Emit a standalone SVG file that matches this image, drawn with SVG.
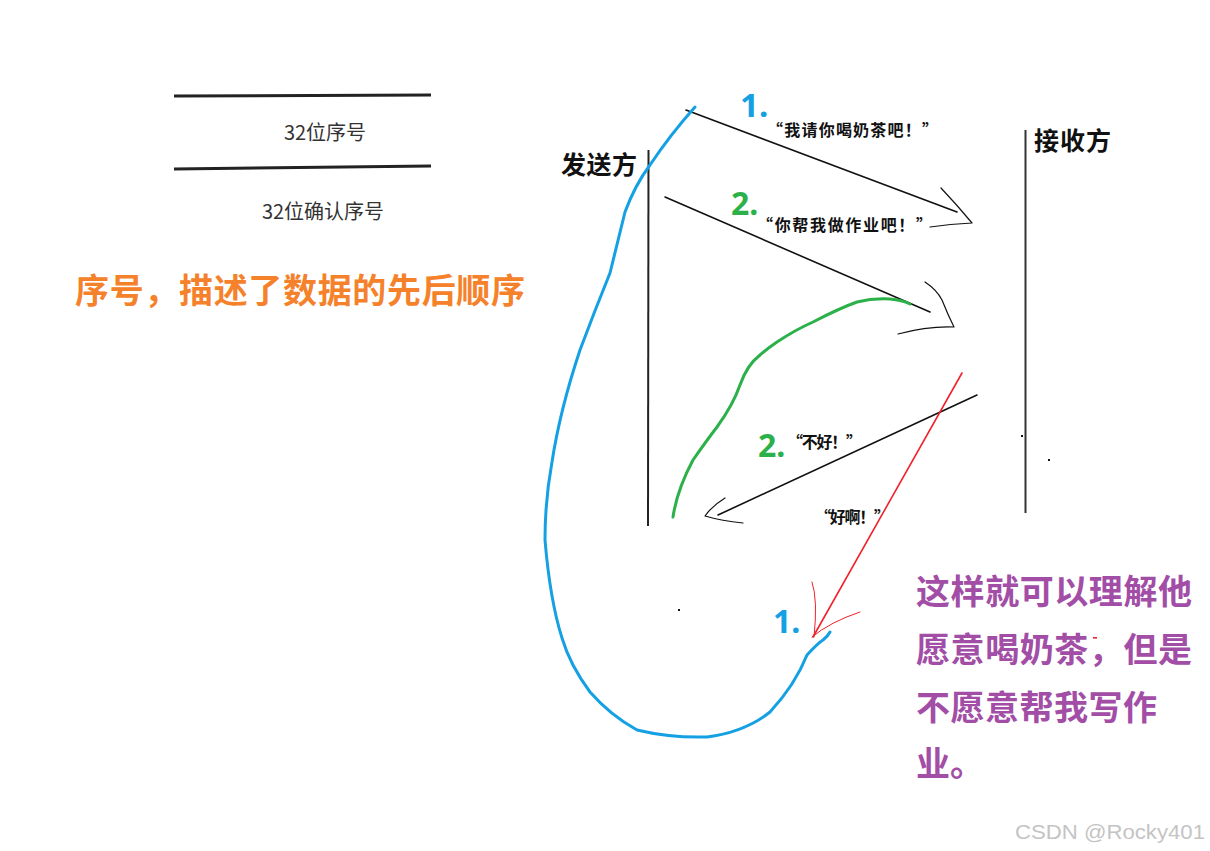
<svg xmlns="http://www.w3.org/2000/svg" width="1210" height="851" viewBox="0 0 1210 851">
<style>
.cjk{font-family:"Noto Sans CJK SC","Noto Sans",sans-serif}
.b{font-weight:bold}
.num{font-family:"Noto Sans","Liberation Sans",sans-serif;font-weight:bold}
.ln{stroke:#111;fill:none;stroke-linecap:round;stroke-linejoin:round}
.blue{stroke:#14a0e3;stroke-width:3;fill:none;stroke-linecap:round;stroke-linejoin:round}
.green{stroke:#2bb04a;stroke-width:3;fill:none;stroke-linecap:round;stroke-linejoin:round}
.red{stroke:#f0222a;fill:none;stroke-linecap:round}
</style>
<rect width="1210" height="851" fill="#fff"/>
<g id="table">
<line x1="174" y1="96" x2="431" y2="95" stroke="#222" stroke-width="3"/>
<line x1="174" y1="169" x2="431" y2="166" stroke="#222" stroke-width="3"/>
<text x="325" y="140" class="cjk" font-size="20" fill="#333" text-anchor="middle">32位序号</text>
<text x="323" y="219" class="cjk" font-size="20" fill="#333" text-anchor="middle">32位确认序号</text>
</g>
<g id="note-orange">
<text x="75" y="303" class="cjk b" font-size="34" fill="#f5822b" textLength="450" lengthAdjust="spacing">序号，描述了数据的先后顺序</text>
</g>
<g id="sender">
<line x1="648.5" y1="150" x2="648" y2="526" stroke="#222" stroke-width="2"/>
<text x="561" y="174" class="cjk b" font-size="25" fill="#111" textLength="76" lengthAdjust="spacing">发送方</text>
</g>
<g id="receiver">
<line x1="1025.5" y1="130" x2="1025.5" y2="513" stroke="#333" stroke-width="2"/>
<text x="1034" y="150" class="cjk b" font-size="25" fill="#111" textLength="77" lengthAdjust="spacing">接收方</text>
</g>
<g id="connectors">
<line class="ln" x1="686" y1="110" x2="957" y2="212" stroke-width="1.6"/>
<path class="ln" d="M941 188 Q958 206 972 223 Q950 224 930 227" stroke-width="1.2"/>
<line class="ln" x1="665" y1="197" x2="930" y2="312" stroke-width="1.6"/>
<path class="ln" d="M925 282 Q937 290 942 300 Q948 315 954 327 Q928 326 898 334" stroke-width="1.2"/>
<line class="ln" x1="977" y1="395" x2="718" y2="515" stroke-width="1.6"/>
<path class="ln" d="M725 498 Q712 506 705 516 Q722 521 743 523" stroke-width="1.2"/>
<path class="blue" d="M695 107 Q670 135 650 165 Q635 185 625 212 Q618 240 610 273 Q595 310 580 350 Q560 410 552 462 Q545 500 545 540 Q550 600 562 638 Q570 665 590 692 Q610 715 637 730 Q670 738 707 737 Q745 732 770 712 Q795 685 807 655 Q818 643 823 640 Q828 636 830 632"/>
<path class="green" d="M673 517 Q677 490 693 460 Q707 440 717 427 Q733 405 740 385 Q747 365 760 355 Q768 348 777 342 Q795 330 813 322 Q840 308 857 302 Q873 298 890 299 Q902 300 910 304"/>
<line class="red" x1="962" y1="373" x2="813" y2="637" stroke-width="1.6"/>
<path class="red" d="M812 582 Q818 600 814 637" stroke-width="1"/>
<path class="red" d="M860 612 Q830 622 812 637" stroke-width="1"/>
</g>
<g id="labels">
<text x="740" y="117" class="num" font-size="33" fill="#14a0e3">1.</text>
<text x="767" y="136" class="cjk b" font-size="16" fill="#111" textLength="171" lengthAdjust="spacing">“我请你喝奶茶吧！”</text>
<text x="731" y="215" class="num" font-size="32" fill="#2bb04a">2.</text>
<text x="757" y="231" class="cjk b" font-size="16" fill="#111" textLength="175" lengthAdjust="spacing">“你帮我做作业吧！”</text>
<text x="758" y="457" class="num" font-size="32" fill="#2bb04a">2.</text>
<text x="787" y="448" class="cjk b" font-size="16" fill="#111" textLength="75" lengthAdjust="spacing">“不好！”</text>
<text x="815" y="523" class="cjk b" font-size="16" fill="#111" textLength="75" lengthAdjust="spacing">“好啊！”</text>
<text x="773" y="633" class="num" font-size="32" fill="#14a0e3">1.</text>
</g>
<g id="note-purple" class="cjk b" font-size="34" fill="#a24ea6">
<text x="916" y="604" textLength="276" lengthAdjust="spacing">这样就可以理解他</text>
<text x="916" y="662" textLength="276" lengthAdjust="spacing">愿意喝奶茶，但是</text>
<text x="916" y="720" textLength="241" lengthAdjust="spacing">不愿意帮我写作</text>
<text x="916" y="776">业。</text>
<rect x="1093" y="637" width="4" height="1.6" fill="#f0222a"/>
</g>
<g id="dots" fill="#111">
<rect x="678" y="609" width="2" height="2"/>
<rect x="1048" y="459" width="2" height="2"/>
<rect x="1021" y="435" width="2" height="2"/>
</g>
<text x="1015" y="839" font-family="Liberation Sans, sans-serif" font-size="21" fill="#c4c4c4" textLength="190" lengthAdjust="spacingAndGlyphs">CSDN @Rocky401</text>
</svg>
